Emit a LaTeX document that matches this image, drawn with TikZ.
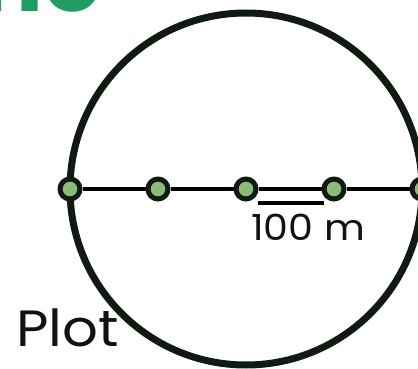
\documentclass[tikz,border=0pt]{standalone}
\usepackage{fontspec}
\setmainfont{Poppins}
\newfontfamily\widefont{Poppins}[FakeStretch=1.1]
\usetikzlibrary{positioning}
\definecolor{ringgreen}{HTML}{111A11}
\definecolor{dotfill}{HTML}{8CBB78}
\definecolor{titlegreen}{HTML}{1F9D63}

\begin{document}
\begin{tikzpicture}[x=1pt, y=-1pt,
  ring/.style={draw=ringgreen, circle, line width=7pt, minimum size=352pt, inner sep=0pt},
  pt/.style={draw=ringgreen, fill=dotfill, circle, line width=5pt, minimum size=20pt, inner sep=0pt},
  seg/.style={line width=3.5pt, black},
  lbl/.style={inner sep=0pt, text=black!93}
]
\clip (0,0) rectangle (418,369);
\useasboundingbox (0,0) rectangle (418,369);
\node[anchor=base east, inner sep=0pt, text=titlegreen,
      font=\fontsize{95}{100}\selectfont\bfseries] (title) at (102,12) {Line};
\node[ring] (plot) at (246,189) {};
\node[pt] (p0) at (70,189) {};
\node[pt, right=63pt of p0] (p1) {};
\node[pt, right=63pt of p1] (p2) {};
\node[pt, right=63pt of p2] (p3) {};
\node[pt, right=63pt of p3] (p4) {};
\draw[seg] (p0) -- (p1);
\draw[seg] (p1) -- (p2);
\draw[seg] (p2) -- (p3);
\draw[seg] (p3) -- (p4);
% scale bar
\coordinate (s0) at (258,203);
\coordinate (s1) at (324,203);
\draw[seg] (s0) -- (s1);
\node[lbl, anchor=base, font=\widefont\fontsize{36}{40}\selectfont] (scale) at (308,240) {100 m};
\node[lbl, anchor=base west, font=\widefont\fontsize{51}{56}\selectfont] (name) at (16,346) {Plot};
\end{tikzpicture}
\end{document}
